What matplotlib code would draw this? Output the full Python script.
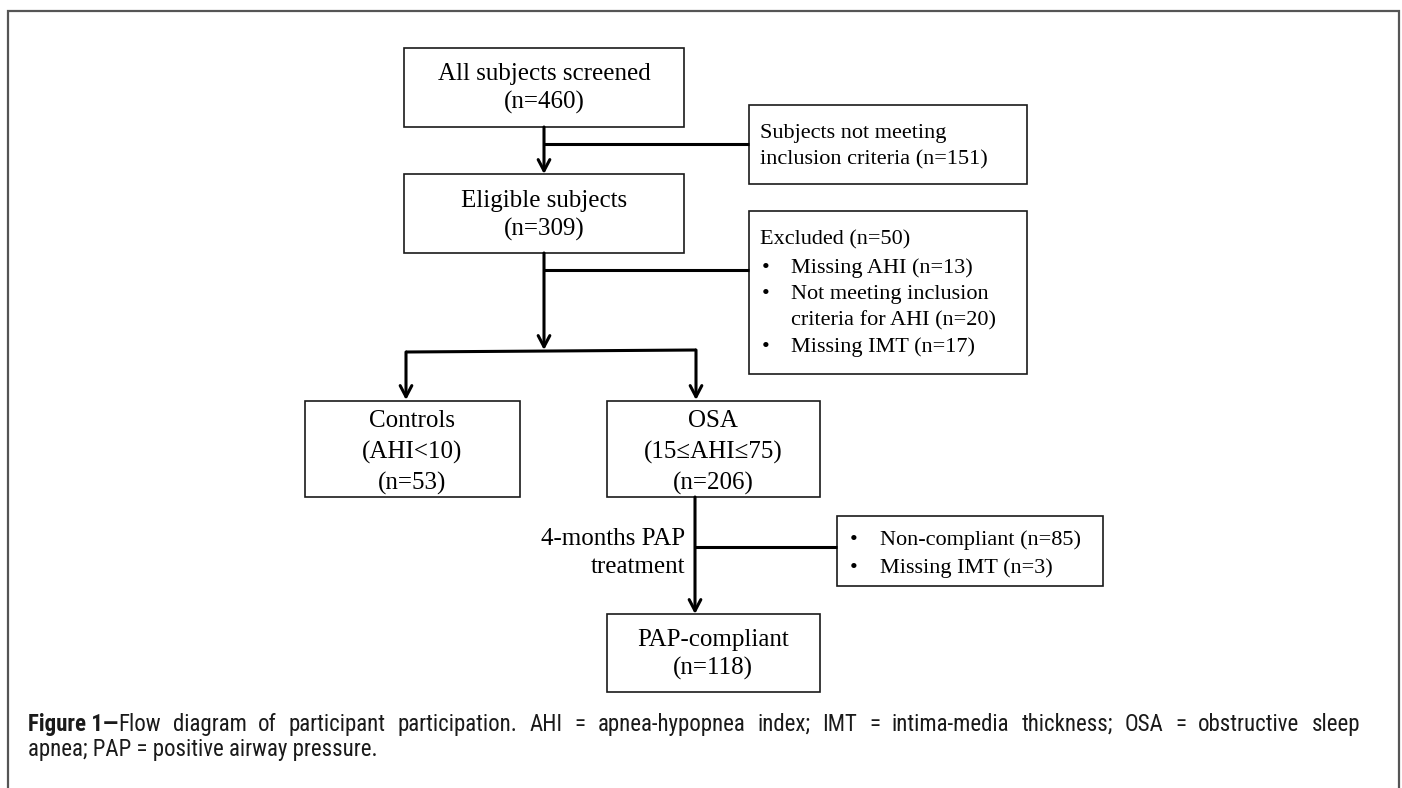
import matplotlib
matplotlib.use("Agg")
import matplotlib.pyplot as plt
from matplotlib.patches import Rectangle
from matplotlib import font_manager as fm

# ---------------- data (flow counts and labels) ----------------
screened_label = "All subjects screened"
screened_n = 460
not_meeting_label = ["Subjects not meeting", "inclusion criteria"]
not_meeting_n = 151
eligible_label = "Eligible subjects"
eligible_n = 309
excluded_n = 50
excluded_reasons = [["Missing AHI"], ["Not meeting inclusion", "criteria for AHI"], ["Missing IMT"]]
excluded_counts = [13, 20, 17]
controls_label = ["Controls", "(AHI<10)"]
controls_n = 53
osa_label = ["OSA", "(15\u2264AHI\u226475)"]
osa_n = 206
treatment_label = ["4-months PAP", "treatment"]
dropout_reasons = ["Non-compliant", "Missing IMT"]
dropout_counts = [85, 3]
compliant_label = "PAP-compliant"
compliant_n = 118
caption_bold = "Figure 1\u2014"
caption_line1 = "Flow diagram of participant participation. AHI = apnea-hypopnea index; IMT = intima-media thickness; OSA = obstructive sleep"
caption_line2 = "apnea; PAP = positive airway pressure."

# ---------------- figure ----------------
W, H = 1402, 788
fig = plt.figure(figsize=(W / 100, H / 100), dpi=100)
ax = fig.add_axes([0, 0, 1, 1])
ax.set_xlim(0, W)
ax.set_ylim(H, 0)
ax.axis("off")

SERIF = ["Liberation Serif", "DejaVu Serif"]

# pick a condensed sans for the caption if one is installed
_names = {f.name for f in fm.fontManager.ttflist}
_stretch = "normal"
CAP_FAMILY = None
for cand in ["Liberation Sans Narrow", "Arial Narrow", "Roboto Condensed",
             "Open Sans Condensed", "Nimbus Sans Narrow"]:
    if cand in _names:
        CAP_FAMILY = [cand, "DejaVu Sans"]
        break
if CAP_FAMILY is None:
    CAP_FAMILY = ["Liberation Sans", "DejaVu Sans"]
    CAP = 14.5
else:
    CAP = 16.5

BIG = 18
SMALL = 16
LW_FLOW = 2.2
LW_BOX = 1.2

# outer frame (open at the bottom)
ax.plot([8, 8, 1399, 1399], [H + 5, 11, 11, H + 5], color="#555555", lw=1.6,
        solid_capstyle="butt", solid_joinstyle="miter")


def box(x0, y0, x1, y1):
    ax.add_patch(Rectangle((x0, y0), x1 - x0, y1 - y0, fill=False,
                           edgecolor="#1a1a1a", lw=LW_BOX))


def ctext(x, y, s, size=BIG):
    ax.text(x, y, s, ha="center", va="center", fontsize=size, family=SERIF, color="black")


def ltext(x, y, s, size=SMALL):
    ax.text(x, y, s, ha="left", va="center", fontsize=size, family=SERIF, color="black")


def line(xs, ys):
    ax.plot(xs, ys, color="black", lw=LW_FLOW, solid_capstyle="butt", solid_joinstyle="miter")


def arrow(x, y0, y1):
    ax.annotate("", xy=(x, y1), xytext=(x, y0),
                arrowprops=dict(arrowstyle="->,head_length=0.8,head_width=0.42",
                                lw=LW_FLOW, color="black", shrinkA=0, shrinkB=0,
                                mutation_scale=10))


# Box 1: all screened
box(404, 48, 684, 127)
ctext(544, 74, screened_label)
ctext(544, 102, f"(n={screened_n})")
arrow(544, 127, 174)
line([544, 749], [144, 144])

# not meeting inclusion criteria
box(749, 105, 1027, 184)
ltext(760, 133, not_meeting_label[0])
ltext(760, 160, f"{not_meeting_label[1]} (n={not_meeting_n})")

# Box 2: eligible
box(404, 174, 684, 253)
ctext(544, 201, eligible_label)
ctext(544, 229, f"(n={eligible_n})")
line([544, 749], [270, 270])
arrow(544, 253, 350)

# excluded box
box(749, 211, 1027, 374)
ltext(760, 240, f"Excluded (n={excluded_n})")
yy = 268
for reason, cnt in zip(excluded_reasons, excluded_counts):
    txt = reason[:-1] + [f"{reason[-1]} (n={cnt})"]
    for j, t in enumerate(txt):
        if j == 0:
            ltext(762, yy, "\u2022")
        ltext(791, yy, t)
        yy += 26.5

# split
line([406, 696], [352, 350])
arrow(406, 352, 400)
arrow(696, 350, 400)

# controls
box(305, 401, 520, 497)
ctext(412, 421, controls_label[0])
ctext(412, 452, controls_label[1])
ctext(412, 483, f"(n={controls_n})")

# OSA
box(607, 401, 820, 497)
ctext(713, 421, osa_label[0])
ctext(713, 452, osa_label[1])
ctext(713, 483, f"(n={osa_n})")

# treatment
arrow(695, 497, 614)
line([695, 837], [547, 547])
ax.text(685, 539, treatment_label[0], ha="right", va="center", fontsize=BIG, family=SERIF)
ax.text(685, 567, treatment_label[1], ha="right", va="center", fontsize=BIG, family=SERIF)

# dropout box
box(837, 516, 1103, 586)
for i, (r, c) in enumerate(zip(dropout_reasons, dropout_counts)):
    y = 540 + 28 * i
    ltext(850, y, "\u2022")
    ltext(880, y, f"{r} (n={c})")

# PAP compliant
box(607, 614, 820, 692)
ctext(713, 640, compliant_label)
ctext(713, 668, f"(n={compliant_n})")

# ---------------- caption (justified first line) ----------------
cap_x0, cap_x1 = 28, 1360
cap_y1, cap_y2 = 731, 756
fig.canvas.draw()
renderer = fig.canvas.get_renderer()

words = caption_line1.split(" ")
pieces = [[(caption_bold, "bold"), (words[0], "normal")]] + [[(w, "normal")] for w in words[1:]]


def measure(s, weight):
    t = ax.text(0, 0, s, fontsize=CAP, family=CAP_FAMILY, fontweight=weight)
    wpx = t.get_window_extent(renderer).width
    t.remove()
    return wpx


widths = [sum(measure(s, wt) for s, wt in p) for p in pieces]
gap = (cap_x1 - cap_x0 - sum(widths)) / (len(pieces) - 1)
x = cap_x0
for p, wd in zip(pieces, widths):
    xx = x
    for s, wt in p:
        ax.text(xx, cap_y1, s, fontsize=CAP, family=CAP_FAMILY, fontweight=wt,
                ha="left", va="baseline", color="#1a1a1a")
        xx += measure(s, wt)
    x += wd + gap

ax.text(cap_x0, cap_y2, caption_line2, fontsize=CAP, family=CAP_FAMILY,
        ha="left", va="baseline", color="#1a1a1a")

fig.savefig("out.png", dpi=100, facecolor="white")
